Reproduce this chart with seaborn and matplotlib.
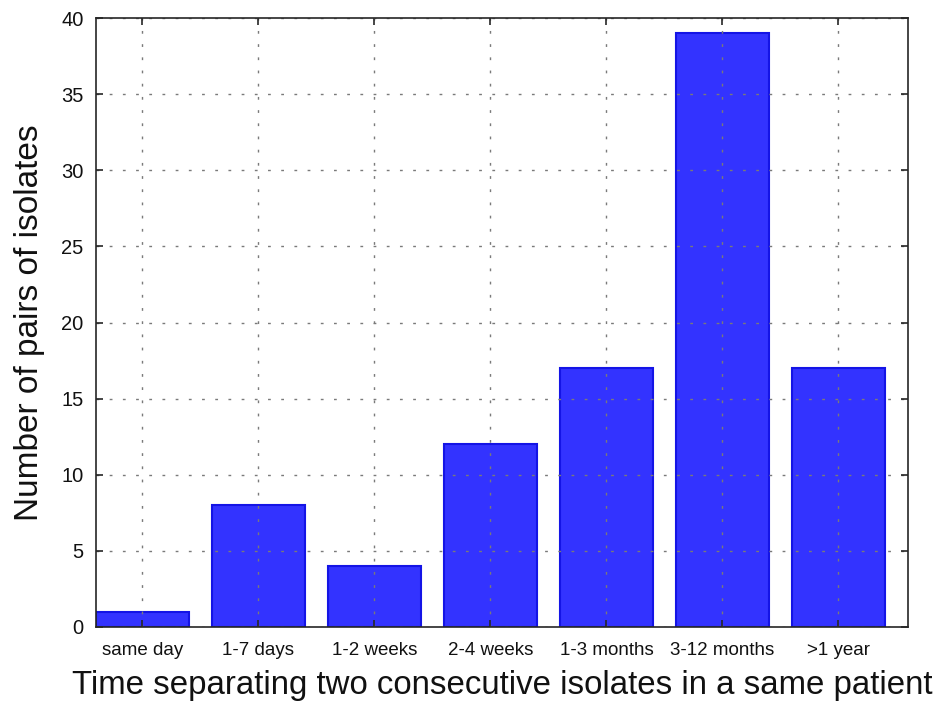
import matplotlib
matplotlib.use("Agg")
import matplotlib.pyplot as plt
import seaborn as sns
import pandas as pd

categories = ["same day", "1-7 days", "1-2 weeks", "2-4 weeks", "1-3 months", "3-12 months", ">1 year"]
pairs = [1, 8, 4, 12, 17, 39, 17]
y_ticks = [0, 5, 10, 15, 20, 25, 30, 35, 40]

df = pd.DataFrame({"interval": categories, "pairs": pairs})

sns.set_theme(style="white")
plt.rcParams["font.family"] = ["Liberation Sans", "DejaVu Sans"]

fig = plt.figure(figsize=(9.39, 7.04), dpi=100)
ax = fig.add_axes([0.1023, 0.1094, 0.8647, 0.865])

sns.barplot(data=df, x="interval", y="pairs", order=categories, ax=ax,
            color="#3333ff", saturation=1, width=0.8,
            edgecolor="#1414e6", linewidth=1.5, zorder=1)

ax.set_xlim(-0.4, 6.6)
ax.set_ylim(0, 40)
ax.set_yticks(y_ticks)
ax.set_yticklabels([str(v) for v in y_ticks])

ax.set_axisbelow(False)
ax.grid(True, color="#7a7a7a", linestyle=(0, (2, 7.5)), linewidth=1.0, zorder=3)

ax.tick_params(axis="both", which="both", direction="in", length=5, width=1.2,
               top=True, right=True, bottom=True, left=True, color="#262626",
               labelcolor="#111111")
ax.tick_params(axis="y", labelsize=14.5, pad=9)
ax.tick_params(axis="x", labelsize=13.5, pad=11)

for s in ax.spines.values():
    s.set_visible(True)
    s.set_color("#262626")
    s.set_linewidth(1.2)
    s.set_zorder(4)

ax.set_xlabel("Time separating two consecutive isolates in a same patient",
              fontsize=23.8, color="#111111", labelpad=8)
ax.set_ylabel("Number of pairs of isolates", fontsize=24, color="#111111", labelpad=12)

fig.savefig("out.png", dpi=100)
